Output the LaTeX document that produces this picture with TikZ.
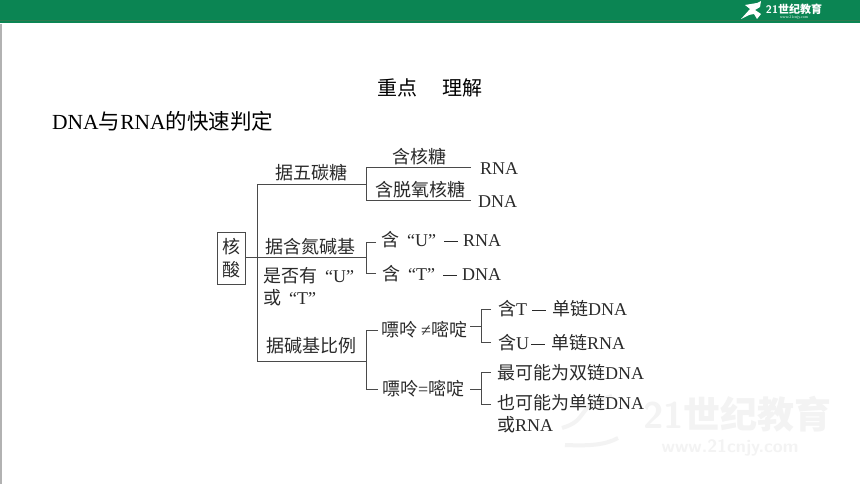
\documentclass[tikz,border=0pt]{standalone}
\usepackage{fontspec}
\setmainfont{Liberation Serif}
\newfontfamily\cjk{Noto Sans CJK SC}
\newcommand{\zh}[1]{{\cjk #1}}
\newcommand{\dashbar}{\rule[0.28em]{14pt}{0.8pt}}
\definecolor{bandgreen}{HTML}{0B8553}
\definecolor{bandline}{HTML}{2F7A50}
\definecolor{treeline}{HTML}{4A4A4A}
\definecolor{inktext}{HTML}{2A2A2A}
\definecolor{markgray}{HTML}{F3F3F3}
\tikzset{
  label/.style={inner sep=0pt, text=inktext, font=\fontsize{18}{22}\selectfont, yshift=-1pt},
  branch/.style={draw=treeline, line width=1pt},
}
\begin{document}
\begin{tikzpicture}[x=1pt, y=-1pt]
    \useasboundingbox (0,0) rectangle (860,484);

        % Page furniture
        \fill[white] (0,0) rectangle (860,484);
        \fill[bandgreen] (0,0) rectangle (860,23);
        \draw[bandline, line width=1pt] (0,21) -- (860,21);
        \fill[gray!60] (0,24) rectangle (1.5,484);
        \fill[white] (741,19) -- (750,9) -- (745,5) -- (757,3) -- (761,1) -- (760,7) -- (755,10) -- (761,14) -- (757,19) -- (754,14) -- (749,15) -- cycle;
        \node[inner sep=0pt, text=white, font=\sffamily\bfseries\fontsize{11}{12}\selectfont] (logo) at (794,9) {21\zh{世纪教育}};
        \node[inner sep=0pt, text=white, font=\fontsize{4}{5}\selectfont] (logourl) at (794,17.5) {www.21cnjy.com};
        \draw[markgray, line width=4pt] (562,428) .. controls (590,420) and (575,405) .. (612,396);
        \draw[markgray, line width=4pt] (565,445) .. controls (590,446) and (605,445) .. (618,438);
        \node[inner sep=0pt, text=markgray, font=\sffamily\bfseries\fontsize{37}{40}\selectfont, anchor=east] (mark) at (832,414) {21\zh{世纪教育}};
        \node[inner sep=0pt, text=markgray, font=\sffamily\bfseries\fontsize{18}{20}\selectfont] (markurl) at (730,448) {www.21cnjy.com};

        % Headings
        \node[inner sep=0pt, text=black, font=\fontsize{20}{24}\selectfont] (title) at (430,88) {\zh{重点\hspace{25pt}理解}};
        \node[inner sep=0pt, text=black, anchor=west, font=\fontsize{21.5}{24}\selectfont] (sub) at (52,121) {DNA\zh{与}RNA\zh{的快速判定}};

        % Define nodes
        \node[label, draw=treeline, line width=1pt, minimum width=28pt, minimum height=52pt, align=center] (root) at (231,257) {\zh{核}\\[1pt]\zh{酸}};
        \node[label] (sugar) at (311,172) {\zh{据五碳糖}};
        \node[label] (base) at (310,246) {\zh{据含氮碱基}};
        \node[label, anchor=north west, align=left] (basenote) at (263,266) {\zh{是否有}\hspace{8pt}“U”\\\zh{或}\hspace{8pt}“T”};
        \node[label] (ratio) at (311,345) {\zh{据碱基比例}};

        \node[label] (ribose) at (419,156) {\zh{含核糖}};
        \node[label] (deoxy) at (420,189) {\zh{含脱氧核糖}};
        \node[label, anchor=west] (rna) at (480,168) {RNA};
        \node[label, anchor=west] (dna) at (478,201) {DNA};

        \node[label, anchor=west] (hasu) at (381,239) {\zh{含}\hspace{8pt}“U”\hspace{8pt}\dashbar\hspace{5pt}RNA};
        \node[label, anchor=west] (hast) at (382,273) {\zh{含}\hspace{8pt}“T”\hspace{8pt}\dashbar\hspace{5pt}DNA};

        \node[label, anchor=west] (neq) at (381,329) {\zh{嘌呤}\hspace{4pt}≠\zh{嘧啶}};
        \node[label, anchor=west] (same) at (382,388) {\zh{嘌呤}=\zh{嘧啶}};

        \node[label, anchor=west] (sst) at (498,308) {\zh{含}T\hspace{5pt}\dashbar\hspace{6pt}\zh{单链}DNA};
        \node[label, anchor=west] (ssu) at (498,342) {\zh{含}U\hspace{2pt}\dashbar\hspace{6pt}\zh{单链}RNA};
        \node[label, anchor=west] (ds) at (497,372) {\zh{最可能为双链}DNA};
        \node[label, anchor=north west, align=left] (ss) at (497,393.5) {\zh{也可能为单链}DNA\\\zh{或}RNA};

        % Junctions
        \coordinate (trunktop) at (257,185);
        \coordinate (trunkmid) at (257,257);
        \coordinate (trunkend) at (257,361);
        \coordinate (forksugar) at (366,185);
        \coordinate (forkbase) at (366,257);
        \coordinate (forkratio) at (366,361);
        \coordinate (stubneq) at (470,326);
        \coordinate (forkneq) at (481,326);
        \coordinate (stubsame) at (470,389);
        \coordinate (forksame) at (481,389);

        % Connect the nodes
        \draw[branch] (root.east |- trunkmid) -- (forkbase);
        \draw[branch] (forksugar) -- (trunktop) -- (trunkend) -- (forkratio);
        \draw[branch] (rna.west |- 0,168) ++(-9,0) -| (forksugar);
        \draw[branch] (dna.west |- 0,201) ++(-7,0) -| (forksugar);
        \draw[branch] (hasu.west |- 0,242) ++(-5,0) -| (forkbase);
        \draw[branch] (hast.west |- 0,273) ++(-6,0) -| (forkbase);
        \draw[branch] (neq.west |- 0,330) ++(-3,0) -| (forkratio);
        \draw[branch] (same.west |- 0,389) ++(-4,0) -| (forkratio);
        \draw[branch] (stubneq) -- (forkneq);
        \draw[branch] (sst.west |- 0,309) ++(-7,0) -| (forkneq);
        \draw[branch] (ssu.west |- 0,342) ++(-7,0) -| (forkneq);
        \draw[branch] (stubsame) -- (forksame);
        \draw[branch] (ds.west |- 0,372) ++(-6,0) -| (forksame);
        \draw[branch] (ss.west |- 0,404) ++(-6,0) -| (forksame);
      \end{tikzpicture}
\end{document}
